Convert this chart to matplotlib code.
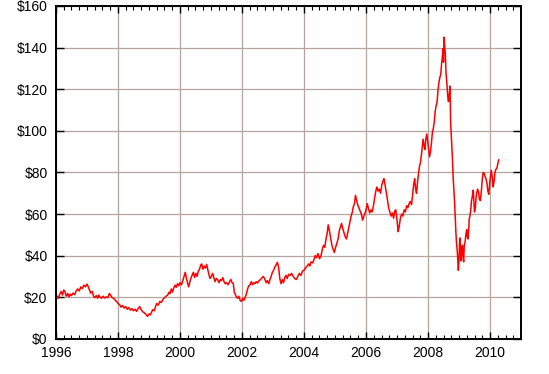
import matplotlib.pyplot as plt
from matplotlib.ticker import MultipleLocator, FuncFormatter

# price readings (year, $/barrel) taken off the chart
years = [
    1996.00, 1996.04, 1996.08, 1996.12, 1996.17, 1996.21, 1996.25, 1996.29, 1996.33, 1996.38,
    1996.42, 1996.46, 1996.50, 1996.55, 1996.60, 1996.65, 1996.70, 1996.75, 1996.80, 1996.85,
    1996.90, 1996.95, 1997.00, 1997.04, 1997.08, 1997.12, 1997.17, 1997.21, 1997.25, 1997.30,
    1997.34, 1997.38, 1997.42, 1997.47, 1997.52, 1997.57, 1997.62, 1997.67, 1997.72, 1997.76,
    1997.80, 1997.85, 1997.90, 1997.95, 1998.00, 1998.05, 1998.10, 1998.15, 1998.20, 1998.25,
    1998.30, 1998.35, 1998.40, 1998.45, 1998.50, 1998.55, 1998.60, 1998.65, 1998.70, 1998.75,
    1998.80, 1998.85, 1998.90, 1998.95, 1999.00, 1999.04, 1999.08, 1999.12, 1999.17, 1999.21,
    1999.25, 1999.30, 1999.35, 1999.40, 1999.45, 1999.50, 1999.55, 1999.60, 1999.65, 1999.68,
    1999.72, 1999.76, 1999.80, 1999.84, 1999.88, 1999.92, 1999.96, 2000.00, 2000.05, 2000.10,
    2000.14, 2000.17, 2000.21, 2000.25, 2000.28, 2000.32, 2000.36, 2000.40, 2000.43, 2000.47,
    2000.51, 2000.55, 2000.59, 2000.63, 2000.67, 2000.70, 2000.74, 2000.78, 2000.82, 2000.86,
    2000.90, 2000.94, 2000.97, 2001.01, 2001.05, 2001.09, 2001.13, 2001.17, 2001.21, 2001.26,
    2001.30, 2001.34, 2001.38, 2001.42, 2001.46, 2001.50, 2001.55, 2001.60, 2001.64, 2001.68,
    2001.72, 2001.75, 2001.78, 2001.82, 2001.86, 2001.90, 2001.94, 2001.98, 2002.02, 2002.06,
    2002.10, 2002.14, 2002.18, 2002.22, 2002.26, 2002.30, 2002.34, 2002.38, 2002.42, 2002.46,
    2002.50, 2002.55, 2002.60, 2002.65, 2002.69, 2002.74, 2002.78, 2002.82, 2002.86, 2002.90,
    2002.94, 2002.98, 2003.02, 2003.06, 2003.10, 2003.14, 2003.18, 2003.22, 2003.26, 2003.30,
    2003.34, 2003.38, 2003.42, 2003.46, 2003.50, 2003.55, 2003.60, 2003.65, 2003.70, 2003.75,
    2003.80, 2003.85, 2003.90, 2003.95, 2004.00, 2004.05, 2004.10, 2004.15, 2004.19, 2004.23,
    2004.28, 2004.32, 2004.36, 2004.40, 2004.45, 2004.50, 2004.55, 2004.59, 2004.63, 2004.67,
    2004.71, 2004.75, 2004.78, 2004.82, 2004.86, 2004.90, 2004.94, 2004.98, 2005.02, 2005.06,
    2005.10, 2005.14, 2005.18, 2005.21, 2005.25, 2005.29, 2005.33, 2005.37, 2005.41, 2005.45,
    2005.48, 2005.52, 2005.56, 2005.59, 2005.63, 2005.66, 2005.69, 2005.73, 2005.77, 2005.81,
    2005.85, 2005.89, 2005.92, 2005.96, 2006.00, 2006.04, 2006.08, 2006.12, 2006.16, 2006.20,
    2006.24, 2006.27, 2006.31, 2006.35, 2006.39, 2006.43, 2006.47, 2006.51, 2006.55, 2006.58,
    2006.62, 2006.66, 2006.70, 2006.73, 2006.77, 2006.81, 2006.85, 2006.89, 2006.93, 2006.96,
    2007.00, 2007.04, 2007.07, 2007.11, 2007.15, 2007.19, 2007.23, 2007.27, 2007.31, 2007.35,
    2007.39, 2007.43, 2007.47, 2007.51, 2007.54, 2007.57, 2007.60, 2007.63, 2007.66, 2007.69,
    2007.72, 2007.76, 2007.80, 2007.84, 2007.87, 2007.90, 2007.93, 2007.96, 2007.99, 2008.02,
    2008.05, 2008.08, 2008.11, 2008.14, 2008.17, 2008.20, 2008.23, 2008.26, 2008.29, 2008.32,
    2008.35, 2008.38, 2008.41, 2008.44, 2008.46, 2008.48, 2008.50, 2008.52, 2008.54, 2008.56,
    2008.58, 2008.60, 2008.62, 2008.64, 2008.66, 2008.69, 2008.71, 2008.73, 2008.75, 2008.77,
    2008.79, 2008.81, 2008.84, 2008.86, 2008.88, 2008.90, 2008.92, 2008.94, 2008.96, 2008.98,
    2009.00, 2009.02, 2009.03, 2009.05, 2009.07, 2009.09, 2009.11, 2009.13, 2009.15, 2009.17,
    2009.20, 2009.22, 2009.25, 2009.27, 2009.29, 2009.31, 2009.33, 2009.35, 2009.38, 2009.40,
    2009.43, 2009.46, 2009.48, 2009.50, 2009.53, 2009.55, 2009.57, 2009.60, 2009.63, 2009.66,
    2009.69, 2009.72, 2009.75, 2009.78, 2009.81, 2009.84, 2009.87, 2009.90, 2009.93, 2009.96,
    2009.98, 2010.01, 2010.04, 2010.07, 2010.10, 2010.13, 2010.16, 2010.19, 2010.22, 2010.25,
    2010.28,
]
prices = [
    18.5, 20.5, 19.5, 21.5, 22.8, 21.0, 23.5, 22.5, 20.5, 21.8,
    20.2, 21.5, 20.8, 22.0, 21.2, 23.0, 24.0, 23.0, 25.0, 24.2,
    25.8, 25.0, 26.3, 25.0, 23.5, 22.0, 22.8, 20.5, 19.8, 20.8,
    19.5, 21.0, 20.0, 19.5, 20.5, 19.6, 20.2, 19.8, 21.8, 21.0,
    20.0, 19.5, 18.8, 18.0, 17.0, 16.5, 15.2, 16.0, 14.8, 15.5,
    14.2, 15.0, 13.8, 14.5, 13.5, 14.2, 13.2, 14.6, 15.5, 14.0,
    13.0, 12.5, 11.8, 10.8, 12.0, 11.5, 12.8, 14.0, 13.5, 15.5,
    17.0, 16.2, 18.0, 17.5, 19.0, 19.8, 20.5, 21.0, 22.5, 21.8,
    24.0, 22.5, 24.5, 25.8, 24.8, 26.5, 25.5, 27.0, 26.0, 28.5,
    30.5, 32.0, 29.0, 26.5, 25.0, 27.5, 29.5, 31.0, 32.0, 29.5,
    31.5, 30.0, 32.5, 33.5, 35.5, 36.0, 33.5, 35.0, 34.0, 35.8,
    33.0, 30.5, 29.0, 30.0, 31.5, 29.5, 27.5, 29.0, 28.5, 27.0,
    28.5, 28.0, 29.5, 27.5, 26.5, 27.0, 26.0, 27.5, 28.5, 27.0,
    26.5, 22.5, 21.5, 20.0, 19.5, 20.5, 18.5, 18.0, 19.5, 18.5,
    20.0, 21.5, 24.0, 25.5, 26.0, 27.5, 26.0, 27.0, 26.5, 27.5,
    26.8, 28.0, 28.5, 29.5, 30.0, 28.5, 27.0, 28.0, 26.5, 28.5,
    30.0, 32.0, 33.0, 34.5, 35.5, 36.8, 34.5, 29.0, 26.5, 28.5,
    27.0, 29.5, 30.5, 29.0, 31.0, 30.5, 31.5, 30.0, 29.0, 28.5,
    30.0, 31.5, 30.5, 32.5, 33.0, 34.0, 35.0, 36.0, 35.0, 37.0,
    36.5, 38.0, 40.0, 39.0, 41.0, 38.5, 40.0, 43.0, 45.0, 44.0,
    48.0, 51.0, 54.8, 52.0, 48.5, 45.0, 43.0, 41.5, 44.0, 46.0,
    48.0, 52.0, 54.0, 55.5, 53.0, 51.0, 49.0, 48.0, 51.0, 54.0,
    56.5, 59.0, 61.0, 63.5, 65.0, 69.0, 67.0, 64.5, 63.0, 61.5,
    60.0, 57.0, 58.5, 60.0, 62.0, 65.0, 62.5, 60.5, 62.0, 61.0,
    64.0, 67.0, 70.5, 73.0, 71.0, 72.0, 70.0, 74.0, 76.0, 77.0,
    73.5, 70.0, 66.0, 63.0, 61.0, 59.0, 60.5, 58.0, 61.5, 62.0,
    57.0, 51.5, 54.0, 58.0, 60.0, 59.0, 62.0, 61.0, 64.0, 63.0,
    65.0, 66.0, 64.5, 70.0, 74.5, 77.0, 72.0, 70.0, 75.0, 79.0,
    82.5, 85.0, 90.0, 96.0, 93.0, 91.0, 96.0, 98.5, 95.0, 91.0,
    87.5, 90.0, 94.0, 99.0, 101.0, 104.0, 109.0, 112.0, 113.5, 119.0,
    123.0, 125.5, 127.0, 132.5, 135.0, 139.5, 133.0, 145.0, 140.0, 137.0,
    128.0, 124.5, 120.0, 116.0, 114.0, 118.0, 121.5, 104.0, 98.0, 92.0,
    86.0, 78.0, 70.0, 65.0, 58.0, 51.0, 46.0, 43.0, 38.0, 33.0,
    38.0, 46.0, 48.5, 42.0, 37.5, 43.0, 45.0, 40.0, 37.0, 45.0,
    47.0, 50.0, 52.5, 49.0, 48.0, 52.0, 57.5, 59.0, 62.0, 66.0,
    68.5, 71.5, 66.0, 61.0, 63.5, 68.0, 70.0, 72.0, 70.5, 67.0,
    66.5, 71.0, 76.5, 80.0, 79.5, 78.0, 77.0, 75.0, 71.0, 69.5,
    73.0, 77.5, 81.0, 78.0, 73.0, 75.5, 80.0, 81.5, 82.0, 84.0,
    86.0,
]

plt.rcParams['font.family'] = ['Liberation Sans', 'DejaVu Sans']

fig = plt.figure(figsize=(5.49, 3.74), dpi=100)
ax = fig.add_axes([0.102, 0.094, 0.847, 0.890])

ax.plot(years, prices, color='#ff0000', lw=1.1)

ax.set_xlim(1996, 2011)
ax.set_ylim(0, 160)
ax.xaxis.set_major_locator(MultipleLocator(2))
ax.xaxis.set_minor_locator(MultipleLocator(0.25))
ax.yaxis.set_major_locator(MultipleLocator(20))
ax.yaxis.set_major_formatter(FuncFormatter(lambda v, p: f"${v:.0f}"))

ax.grid(True, which='major', color='#b5a59e', lw=0.9)
ax.tick_params(which='both', direction='in', top=True, right=True,
               labelsize=10, colors='black')
ax.tick_params(axis='x', which='major', length=5, width=1, pad=5)
ax.tick_params(axis='x', which='minor', length=3, width=0.8)
ax.tick_params(axis='y', which='major', length=6, width=1, pad=6)
for s in ax.spines.values():
    s.set_linewidth(1.4)

fig.savefig('out.png', dpi=100)
